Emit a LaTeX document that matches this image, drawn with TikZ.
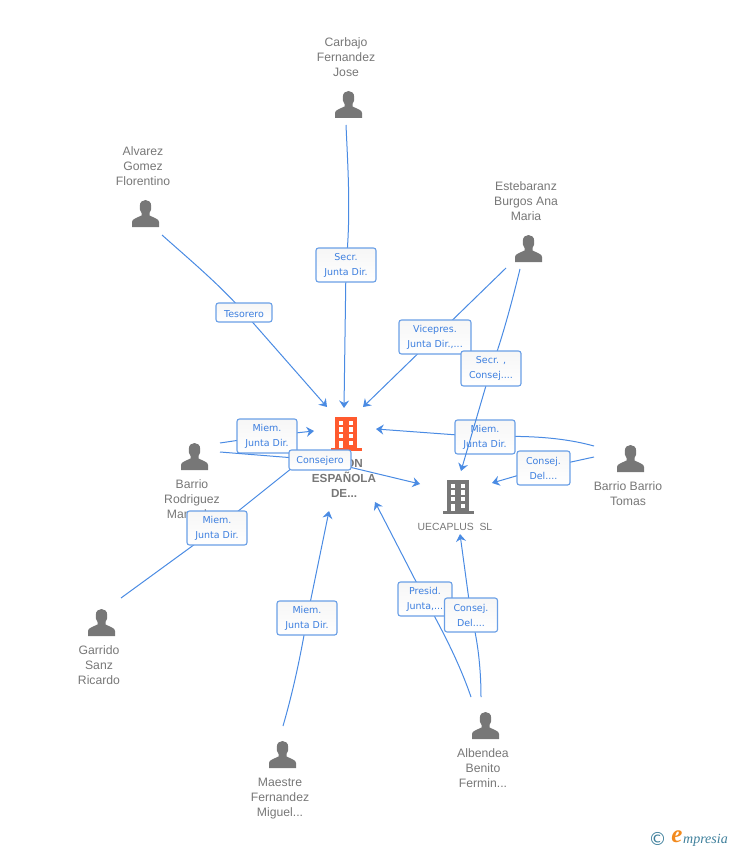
\documentclass[tikz,border=0pt]{standalone}
\usepackage{fontspec}
\setmainfont{Liberation Sans}
\newfontfamily\tagfont{DejaVu Sans}
\newfontfamily\logofont{Liberation Serif}
\usetikzlibrary{arrows.meta}

\definecolor{inkgray}{HTML}{777777}
\definecolor{linkblue}{HTML}{4A8BE3}
\definecolor{tagline}{HTML}{6A9FE6}
\definecolor{tagtext}{HTML}{3D7FDF}
\definecolor{tagtop}{HTML}{F6F6F6}
\definecolor{mainorange}{HTML}{FF5A2E}
\definecolor{logoteal}{HTML}{3E7F9B}
\definecolor{logoorange}{HTML}{F28A1E}

\tikzset{
    person/.pic={
        \fill[inkgray] (-13.5,0) -- (-13.5,-5) .. controls (-13.5,-8) and (-9,-9) .. (-4,-11.5)
            -- (-4,-14) .. controls (-6,-16) and (-5.7,-19) .. (-5.7,-21)
            .. controls (-5.7,-25) and (-3,-27) .. (0,-27)
            .. controls (3,-27) and (5.7,-25) .. (5.7,-21)
            .. controls (5.7,-19) and (6,-16) .. (4,-14)
            -- (4,-11.5) .. controls (9,-9) and (13.5,-8) .. (13.5,-5) -- (13.5,0) -- cycle;
    },
    building/.pic={
        \fill[pic actions] (-11,-33) rectangle (11,-1);
        \fill[pic actions] (-15,-2) rectangle (16,1);
        \fill[white] (-7.3,-29.5) rectangle (-2.9,-25.5);
        \fill[white] (2.8,-29.5) rectangle (7.2,-25.5);
        \fill[white] (-7.3,-23) rectangle (-2.9,-18.5);
        \fill[white] (2.8,-23) rectangle (7.2,-18.5);
        \fill[white] (-7.3,-16.5) rectangle (-2.9,-12);
        \fill[white] (2.8,-16.5) rectangle (7.2,-12);
        \fill[white] (-7.3,-9.5) rectangle (-2.9,-2);
        \fill[white] (2.8,-9.5) rectangle (7.2,-5);
    },
    who/.style={inkgray, align=center, font=\fontsize{12.2}{15}\selectfont},
    link/.style={linkblue, line width=1pt},
    into/.style={linkblue, line width=1pt, -{Stealth[length=7.5pt,width=10pt,inset=2.5pt]}},
    tag/.style={draw=tagline, line width=1.1pt, rounded corners=2.5pt, top color=tagtop, bottom color=white,
        text=tagtext, align=center, inner sep=0pt, font=\tagfont\fontsize{9.5}{15}\selectfont,
        execute at begin node={\rule{0pt}{9.5pt}}},
}

\begin{document}
\begin{tikzpicture}[x=1pt,y=-1pt]

    \useasboundingbox (0,0) rectangle (728,850);

    % people
    \pic (carbajo) at (348.5,118) {person};
    \pic (alvarez) at (145.5,227) {person};
    \pic (estebaranz) at (528.5,262) {person};
    \pic (rodriguez) at (194.5,470) {person};
    \pic (garrido) at (101.5,636) {person};
    \pic (maestre) at (282.5,768) {person};
    \pic (albendea) at (485.5,739) {person};
    \pic (tomas) at (630.5,472) {person};

    \node[who] (carbajoname) at (346,57) {Carbajo\\Fernandez\\Jose};
    \node[who] (alvarezname) at (143,166) {Alvarez\\Gomez\\Florentino};
    \node[who] (estebaranzname) at (526,201) {Estebaranz\\Burgos Ana\\Maria};
    \node[who] (rodriguezname) at (192,499) {Barrio\\Rodriguez\\Manuel...};
    \node[who] (garridoname) at (99,665) {Garrido\\Sanz\\Ricardo};
    \node[who] (maestrename) at (280,798.5) {Maestre\\Fernandez\\Miguel...};
    \node[who] (albendeaname) at (483,768) {Albendea\\Benito\\Fermin...};
    \node[who] (tomasname) at (628,493.5) {Barrio Barrio\\Tomas};

    % companies
    \pic[fill=mainorange] (union) at (346,450) {building};
    \pic[fill=inkgray] (uecaplus) at (458,513) {building};
    \node[who, font=\bfseries\fontsize{11.7}{15}\selectfont] (unionname) at (344,478) {UNION\\ESPAÑOLA\\DE...};
    \node[who, font=\fontsize{10.4}{15}\selectfont] (uecaplusname) at (455,526.5) {UECAPLUS\ \ SL};

    % free ends of the connectors
    \coordinate (carbajoout) at (346,125);
    \coordinate (alvarezout) at (162,235);
    \coordinate (estebaranzoutA) at (506,268);
    \coordinate (estebaranzoutB) at (520,269);
    \coordinate (rodriguezoutA) at (220,443);
    \coordinate (rodriguezoutB) at (220,452);
    \coordinate (garridoout) at (121,598);
    \coordinate (maestreout) at (283,726);
    \coordinate (albendeaoutA) at (471,697);
    \coordinate (albendeaoutB) at (481,697);
    \coordinate (tomasoutA) at (594,446);
    \coordinate (tomasoutB) at (594,457);

    \coordinate (uniontop) at (344,408);
    \coordinate (unionnw) at (327,407);
    \coordinate (unionne) at (363,407);
    \coordinate (unionwest) at (314,431);
    \coordinate (unioneast) at (376,429);
    \coordinate (unionsw) at (329,511);
    \coordinate (unionse) at (375,502);
    \coordinate (ueca) at (461,471);
    \coordinate (uecawest) at (420,484);
    \coordinate (uecaeast) at (492,483);
    \coordinate (uecasouth) at (460,534);
    \coordinate (garridoin) at (312,452);

    \coordinate (secrpos) at (346,265);
    \coordinate (tesoreropos) at (244,312.5);
    \coordinate (vicepos) at (435,337);
    \coordinate (secrconpos) at (491,368.5);
    \coordinate (miemApos) at (267,436);
    \coordinate (consejeropos) at (320,460);
    \coordinate (miemBpos) at (217,528);
    \coordinate (miemCpos) at (307,618);
    \coordinate (presidpos) at (425,599);
    \coordinate (consejApos) at (471,615);
    \coordinate (miemDpos) at (485,437);
    \coordinate (consejBpos) at (543.5,468);

    % connectors and their labels
    \draw[link] (carbajoout) .. controls (348,170) and (351,215) .. (secrpos);
    \draw[into] (secrpos) -- (uniontop);
    \node[tag, minimum width=60pt, minimum height=34pt] (secr) at (secrpos) {Secr.\\Junta Dir.};

    \draw[link] (alvarezout) .. controls (190,260) and (220,285) .. (tesoreropos);
    \draw[into] (tesoreropos) -- (unionnw);
    \node[tag, minimum width=56pt, minimum height=19pt] (tesorero) at (tesoreropos) {Tesorero};

    \draw[link] (estebaranzoutA) -- (vicepos);
    \draw[into] (vicepos) -- (unionne);
    \node[tag, minimum width=72pt, minimum height=34pt] (vice) at (vicepos) {Vicepres.\\Junta Dir.,...};

    \draw[link] (tomasoutA) .. controls (565,438) and (530,435) .. (miemDpos);
    \draw[into] (miemDpos) -- (unioneast);
    \node[tag, minimum width=60pt, minimum height=34pt] (miemD) at (miemDpos) {Miem.\\Junta Dir.};

    \draw[link] (estebaranzoutB) .. controls (510,310) and (500,345) .. (secrconpos);
    \draw[into] (secrconpos) -- (ueca);
    \node[tag, minimum width=60pt, minimum height=35pt] (secrcon) at (secrconpos) {Secr. ,\\Consej....};

    \draw[link] (tomasoutB) -- (consejBpos);
    \draw[into] (consejBpos) -- (uecaeast);
    \node[tag, minimum width=53pt, minimum height=34pt] (consejB) at (consejBpos) {Consej.\\Del....};

    \draw[link] (rodriguezoutA) -- (miemApos);
    \draw[into] (miemApos) -- (unionwest);
    \node[tag, minimum width=60pt, minimum height=34pt] (miemA) at (miemApos) {Miem.\\Junta Dir.};

    \draw[link] (garridoout) -- (miemBpos);
    \draw[link] (miemBpos) -- (garridoin);
    \node[tag, minimum width=60pt, minimum height=34pt] (miemB) at (miemBpos) {Miem.\\Junta Dir.};

    \draw[link] (rodriguezoutB) -- (consejeropos);
    \draw[into] (consejeropos) -- (uecawest);
    \node[tag, minimum width=62pt, minimum height=20pt] (consejero) at (consejeropos) {Consejero};

    \draw[link] (maestreout) .. controls (292,695) and (300,660) .. (miemCpos);
    \draw[into] (miemCpos) -- (unionsw);
    \node[tag, minimum width=60pt, minimum height=34pt] (miemC) at (miemCpos) {Miem.\\Junta Dir.};

    \draw[link] (albendeaoutA) .. controls (460,665) and (445,635) .. (presidpos);
    \draw[into] (presidpos) -- (unionse);
    \node[tag, minimum width=54pt, minimum height=34pt] (presid) at (presidpos) {Presid.\\Junta,...};

    \draw[link] (albendeaoutB) .. controls (481,670) and (478,640) .. (consejApos);
    \draw[into] (consejApos) -- (uecasouth);
    \node[tag, minimum width=53pt, minimum height=34pt] (consejA) at (consejApos) {Consej.\\Del....};

    % logo
    \node[text=logoteal, font=\tagfont\fontsize{18}{18}\selectfont] (logoc) at (657.5,838.5) {©};
    \node[text=logoorange, font=\logofont\itshape\bfseries\fontsize{25}{25}\selectfont] (logoe) at (677,837) {e};
    \node[text=logoteal, anchor=west, inner sep=0pt, font=\logofont\itshape\fontsize{14}{14}\selectfont] (logotext) at (683,840) {mpresia};

\end{tikzpicture}
\end{document}
